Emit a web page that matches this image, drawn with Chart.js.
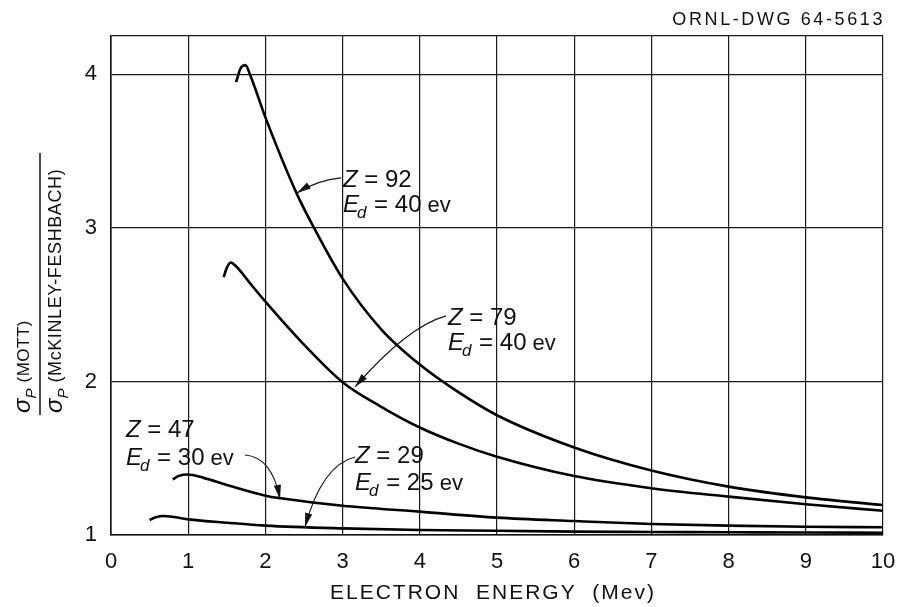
<!DOCTYPE html>
<html>
<head>
<meta charset="utf-8">
<script src="https://cdn.jsdelivr.net/npm/chart.js@4.4.1/dist/chart.umd.min.js"></script>
<style>
  body { margin: 0; background: #fff; }
  #wrap { width: 897px; height: 607px; }
</style>
</head>
<body>
<div id="wrap"><canvas id="ratioChart" width="897" height="607"></canvas></div>
<script>
// Electron energy (Mev) vs sigma_p(Mott) / sigma_p(McKinley-Feshbach)
const z92Energy = [1.62, 1.68, 1.74, 1.80, 2.0, 2.4, 2.63, 3.0, 3.5, 4.0, 4.5, 5.0, 6.0, 7.0, 8.0, 9.0, 10.0];
const z92Ratio  = [3.95, 4.04, 4.06, 4.00, 3.72, 3.23, 3.00, 2.67, 2.34, 2.11, 1.93, 1.78, 1.57, 1.42, 1.315, 1.245, 1.195];

const z79Energy = [1.46, 1.50, 1.55, 1.62, 1.8, 2.0, 2.5, 3.0, 3.5, 4.0, 4.5, 5.0, 6.0, 7.0, 8.0, 9.0, 10.0];
const z79Ratio  = [2.68, 2.74, 2.775, 2.75, 2.64, 2.52, 2.24, 1.995, 1.835, 1.70, 1.595, 1.51, 1.384, 1.305, 1.25, 1.20, 1.158];

const z47Energy = [0.80, 0.88, 0.99, 1.2, 1.5, 2.0, 2.2, 3.0, 4.0, 5.0, 6.0, 7.0, 8.0, 9.0, 10.0];
const z47Ratio  = [1.363, 1.385, 1.394, 1.372, 1.326, 1.256, 1.239, 1.19, 1.152, 1.113, 1.091, 1.072, 1.061, 1.054, 1.05];

const z29Energy = [0.50, 0.58, 0.68, 1.0, 1.5, 2.0, 3.0, 4.0, 5.0, 6.0, 7.0, 8.0, 9.0, 10.0];
const z29Ratio  = [1.098, 1.115, 1.124, 1.102, 1.08, 1.061, 1.043, 1.033, 1.028, 1.022, 1.02, 1.018, 1.016, 1.015];

const energyTicks = [0, 1, 2, 3, 4, 5, 6, 7, 8, 9, 10];
const ratioTicks = [1, 2, 3, 4];

const FONT = '"Liberation Sans", Arial, sans-serif';

function toPoints(xs, ys) {
  return xs.map((x, i) => ({ x: x, y: ys[i] }));
}

function curve(xs, ys) {
  return {
    data: toPoints(xs, ys),
    borderColor: '#000',
    borderWidth: 2.6,
    pointRadius: 0,
    fill: false,
    cubicInterpolationMode: 'monotone'
  };
}

// label text + curved arrow, positions in data units
const callouts = [
  { z: '92', ed: '40', tx: 3.005, ty1: 3.267, ty2: 3.104,
    tail: [2.979, 3.326], ctrl: [2.681, 3.313], head: [2.409, 3.228] },
  { z: '79', ed: '40', tx: 4.365, ty1: 2.368, ty2: 2.205,
    tail: [4.339, 2.427], ctrl: [3.834, 2.355], head: [3.161, 1.964] },
  { z: '47', ed: '30', tx: 0.194, ty1: 1.638, ty2: 1.456,
    tail: [1.736, 1.521], ctrl: [2.085, 1.508], head: [2.189, 1.235] },
  { z: '29', ed: '25', tx: 3.161, ty1: 1.469, ty2: 1.293,
    tail: [3.161, 1.508], ctrl: [2.733, 1.456], head: [2.513, 1.052] }
];

const decorPlugin = {
  id: 'decor',
  afterDraw(chart) {
    const ctx = chart.ctx;
    const xs = chart.scales.x;
    const ys = chart.scales.y;
    const X = v => xs.getPixelForValue(v);
    const Y = v => ys.getPixelForValue(v);
    ctx.save();
    ctx.fillStyle = '#111';
    ctx.strokeStyle = '#111';

    // drawing number top right
    ctx.font = '18px ' + FONT;
    ctx.letterSpacing = '2.6px';
    ctx.textAlign = 'right';
    ctx.textBaseline = 'alphabetic';
    ctx.fillText('ORNL-DWG 64-5613', chart.chartArea.right + 2, 25);

    // x axis title
    ctx.font = '21px ' + FONT;
    ctx.letterSpacing = '2px';
    ctx.textAlign = 'center';
    ctx.fillText('ELECTRON  ENERGY  (Mev)', 493, 599);
    ctx.letterSpacing = '0px';

    // y axis title, a rotated fraction
    ctx.save();
    ctx.translate(40, 415);
    ctx.rotate(-Math.PI / 2);
    ctx.lineWidth = 1.5;
    ctx.beginPath();
    ctx.moveTo(0, 0);
    ctx.lineTo(262, 0);
    ctx.stroke();
    ctx.textAlign = 'left';
    ctx.textBaseline = 'alphabetic';
    const sigma = (x0, base) => {
      ctx.font = 'italic 24px ' + FONT;
      ctx.fillText('\u03c3', x0, base);
      const w = ctx.measureText('\u03c3').width;
      ctx.font = 'italic 15px ' + FONT;
      ctx.fillText('P', x0 + w, base + 6);
      return x0 + w + ctx.measureText('P').width;
    };
    let e = sigma(2, -10);
    ctx.font = '17px ' + FONT;
    ctx.letterSpacing = '0.5px';
    ctx.fillText('(MOTT)', e + 6, -11);
    ctx.letterSpacing = '0px';
    e = sigma(2, 22);
    ctx.font = '18px ' + FONT;
    ctx.letterSpacing = '0.6px';
    ctx.fillText('(McKINLEY-FESHBACH)', e + 6, 21);
    ctx.letterSpacing = '0px';
    ctx.restore();

    // curve labels with arrows
    callouts.forEach(c => {
      const lx = X(c.tx);
      const b1 = Y(c.ty1);
      const b2 = Y(c.ty2);
      ctx.textAlign = 'left';
      ctx.font = 'italic 24px ' + FONT;
      ctx.fillText('Z', lx, b1);
      let w = ctx.measureText('Z').width;
      ctx.font = '24px ' + FONT;
      ctx.fillText(' = ' + c.z, lx + w, b1);

      ctx.font = 'italic 24px ' + FONT;
      ctx.fillText('E', lx, b2);
      w = ctx.measureText('E').width;
      ctx.font = 'italic 17px ' + FONT;
      ctx.fillText('d', lx + w - 2, b2 + 6);
      w += ctx.measureText('d').width - 1;
      ctx.font = '24px ' + FONT;
      ctx.fillText(' = ' + c.ed, lx + w, b2);
      w += ctx.measureText(' = ' + c.ed).width;
      ctx.font = '22px ' + FONT;
      ctx.fillText(' ev', lx + w, b2);

      const tx = X(c.tail[0]), ty = Y(c.tail[1]);
      const cx = X(c.ctrl[0]), cy = Y(c.ctrl[1]);
      const hx = X(c.head[0]), hy = Y(c.head[1]);
      ctx.lineWidth = 1.1;
      ctx.beginPath();
      ctx.moveTo(tx, ty);
      ctx.quadraticCurveTo(cx, cy, hx, hy);
      ctx.stroke();
      const ang = Math.atan2(hy - cy, hx - cx);
      const len = 14, half = 3.6;
      ctx.beginPath();
      ctx.moveTo(hx, hy);
      ctx.lineTo(hx - len * Math.cos(ang) + half * Math.sin(ang), hy - len * Math.sin(ang) - half * Math.cos(ang));
      ctx.lineTo(hx - len * Math.cos(ang) - half * Math.sin(ang), hy - len * Math.sin(ang) + half * Math.cos(ang));
      ctx.closePath();
      ctx.fill();
    });
    ctx.restore();
  }
};

const ctx = document.getElementById('ratioChart').getContext('2d');
new Chart(ctx, {
  type: 'line',
  data: {
    datasets: [
      curve(z92Energy, z92Ratio),
      curve(z79Energy, z79Ratio),
      curve(z47Energy, z47Ratio),
      curve(z29Energy, z29Ratio)
    ]
  },
  options: {
    responsive: false,
    animation: false,
    devicePixelRatio: 1,
    layout: { padding: { left: 0, right: 0, top: 36, bottom: 0 } },
    plugins: {
      legend: { display: false },
      tooltip: { enabled: false },
      title: { display: false }
    },
    scales: {
      x: {
        type: 'linear',
        min: 0,
        max: 10,
        afterFit: s => { s.height = 72; s.paddingLeft = 0; s.paddingRight = 14; },
        afterBuildTicks: s => { s.ticks = energyTicks.map(v => ({ value: v })); },
        ticks: {
          color: '#111',
          font: { family: FONT, size: 22 },
          padding: 14,
          maxRotation: 0
        },
        grid: { color: '#1a1a1a', lineWidth: 1.2, drawTicks: false },
        border: { color: '#111', width: 1.6 }
      },
      y: {
        type: 'linear',
        min: 1,
        max: 4.25,
        afterFit: s => { s.width = 111; s.paddingTop = 0; s.paddingBottom = 0; },
        afterBuildTicks: s => { s.ticks = ratioTicks.concat([4.25]).map(v => ({ value: v })); },
        ticks: {
          color: '#111',
          font: { family: FONT, size: 22 },
          padding: 14,
          callback: v => (ratioTicks.includes(v) ? String(v) : '')
        },
        grid: { color: '#1a1a1a', lineWidth: 1.2, drawTicks: false },
        border: { color: '#111', width: 1.6 }
      }
    }
  },
  plugins: [decorPlugin]
});
</script>
</body>
</html>
